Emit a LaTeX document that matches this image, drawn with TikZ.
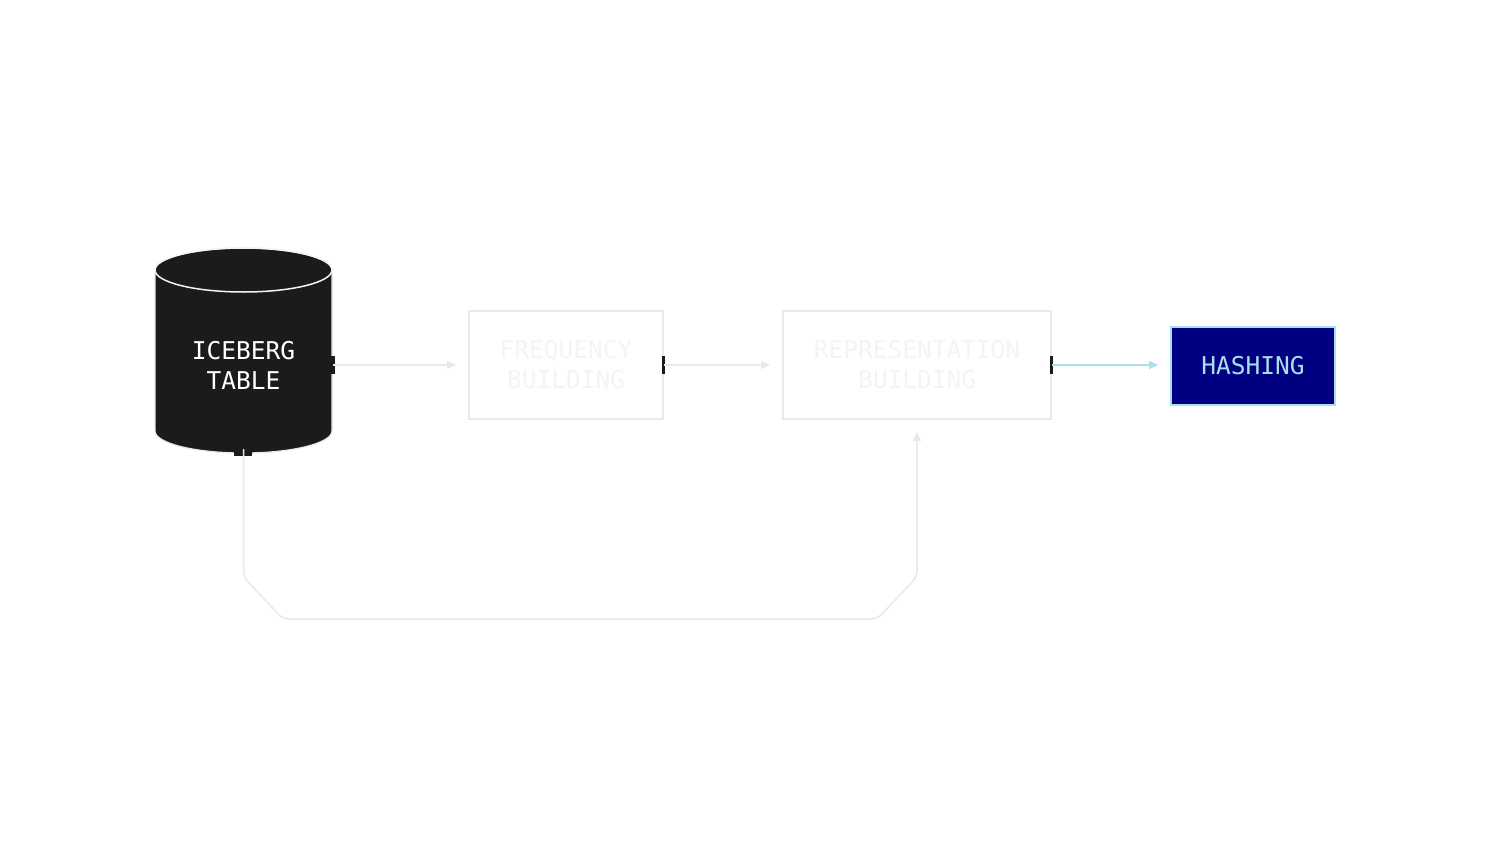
\documentclass[tikz,border=0pt]{standalone}
\usepackage{fontspec}
\setmonofont{DejaVu Sans Mono}
\usetikzlibrary{arrows.meta}
\definecolor{darkfill}{HTML}{1B1B1B}
\definecolor{paleline}{HTML}{EAEAE4}
\definecolor{paletext}{HTML}{F5F5F0}
\definecolor{navyfill}{HTML}{000080}
\definecolor{skyline}{HTML}{A8DFEF}
\tikzset{
  lbl/.style={font=\ttfamily\fontsize{24.5}{30}\selectfont, align=center, inner sep=0pt},
  procbox/.style={draw=paleline, line width=1.5pt, fill=white, lbl, text=paletext},
  hashbox/.style={draw=skyline, line width=1.8pt, fill=navyfill, lbl, text=skyline},
  flow/.style={draw=paleline, line width=1.5pt, -{Triangle[length=9pt,width=8pt]}},
  flowsky/.style={draw=skyline, line width=1.5pt, -{Triangle[length=9pt,width=8pt]}},
  port/.style={fill=darkfill, draw=none},
}
\begin{document}
\begin{tikzpicture}[x=1pt,y=-1pt]
\useasboundingbox (0,0) rectangle (1488,864);
\fill[white] (0,0) rectangle (1488,864);
% cylinder
\filldraw[fill=darkfill, draw=paleline, line width=1.2pt]
  (155,270) -- (155,431) arc[start angle=180, end angle=0, x radius=88.5, y radius=22]
  -- (332,270) arc[start angle=0, end angle=-180, x radius=88.5, y radius=22] -- cycle;
\draw[draw=paletext, line width=1.5pt] (243.5,270) ellipse[x radius=88.5, y radius=22];
\node[lbl, text=white, minimum width=177pt, minimum height=206pt] (ice) at (243.5,365) {ICEBERG\\TABLE};
% boxes
\node[procbox, minimum width=194pt, minimum height=108pt] (freq) at (566,365) {FREQUENCY\\BUILDING};
\node[procbox, minimum width=268pt, minimum height=108pt] (repr) at (917,365) {REPRESENTATION\\BUILDING};
\node[hashbox, minimum width=164pt, minimum height=78pt] (hash) at (1253,366) {HASHING};
% port markers
\fill[port] (331,356) rectangle (334.5,374);
\fill[port] (661.5,356) rectangle (664.5,374);
\fill[port] (1049.5,356) rectangle (1052.5,374);
\fill[port] (234,448) rectangle (252,456);
% connectors
\coordinate (iceout) at (333,365);
\draw[flow] (iceout) -- (456,365);
\draw[flow] (freq.east) -- (770,365);
\draw[flowsky] (repr.east) -- (1158,365);
\coordinate (bot) at (243.5,449);
\coordinate (reprin) at (917,432);
\draw[flow, rounded corners=6pt] (bot) -- (243.5,577) -- (283,619) -- (877,619) -- (917,577) -- (reprin);
\end{tikzpicture}
\end{document}
